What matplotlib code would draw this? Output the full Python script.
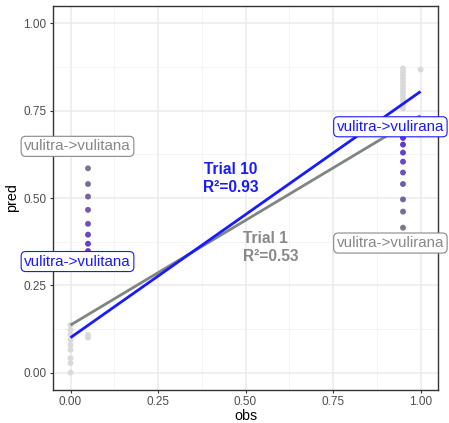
import matplotlib.pyplot as plt
import numpy as np
from matplotlib.colors import LinearSegmentedColormap

plt.rcParams['font.family'] = ['Liberation Sans', 'DejaVu Sans']

# trials 1..10 for the two highlighted items
trials = np.arange(1, 11)
left_obs = 0.05
left_pred = [0.585, 0.54, 0.504, 0.466, 0.426, 0.395, 0.369, 0.348, 0.335, 0.325]
right_obs = 0.95
right_pred = [0.415, 0.461, 0.496, 0.54, 0.573, 0.604, 0.630, 0.653, 0.672, 0.69]

# other items (light gray)
other_obs = [0.0] * 9 + [0.05] * 2 + [0.95] * 13 + [1.0]
other_pred = [0.136, 0.122, 0.108, 0.093, 0.079, 0.065, 0.041, 0.027, 0.0,
              0.108, 0.100,
              0.871, 0.861, 0.851, 0.842, 0.832, 0.822, 0.813, 0.803, 0.794,
              0.785, 0.776, 0.766, 0.757,
              0.868]

# fitted lines
fit_obs = [0.0, 1.0]
fit_trial1 = [0.136, 0.736]
fit_trial10 = [0.100, 0.805]

gray = '#7f8581'
blue = '#1a1aff'

fig = plt.figure(figsize=(4.49, 4.23), dpi=100)
ax = fig.add_axes([53/449, 33/423, 385/449, 384/423])

ax.set_xlim(-0.05, 1.05)
ax.set_ylim(-0.05, 1.05)
ticks = [0, 0.25, 0.5, 0.75, 1.0]
ax.set_xticks(ticks)
ax.set_yticks(ticks)
ax.set_xticklabels(['%.2f' % t for t in ticks])
ax.set_yticklabels(['%.2f' % t for t in ticks])
ax.set_xticks([0.125, 0.375, 0.625, 0.875], minor=True)
ax.set_yticks([0.125, 0.375, 0.625, 0.875], minor=True)
ax.grid(True, which='major', color='#ebebeb', lw=1.1)
ax.grid(True, which='minor', color='#f2f2f2', lw=0.6)
ax.set_axisbelow(True)
ax.tick_params(which='major', length=2.2, color='#333333', labelcolor='#4d4d4d', labelsize=8.5, pad=2.4)
ax.tick_params(which='minor', length=0)
for s in ax.spines.values():
    s.set_color('#333333')
    s.set_linewidth(1.0)

ax.set_xlabel('obs', fontsize=10.3, labelpad=0.5)
ax.set_ylabel('pred', fontsize=10.3, labelpad=3)

ax.scatter(other_obs, other_pred, s=18, color='#d9d9d9', edgecolors='none', zorder=2)

cmap = LinearSegmentedColormap.from_list('tr', ['#7c7690', '#5a26e8'])
cols = cmap((trials - 1) / 9)
ax.scatter([left_obs] * 10, left_pred, s=18, c=cols, edgecolors='none', zorder=3)
ax.scatter([right_obs] * 10, right_pred, s=18, c=cols, edgecolors='none', zorder=3)

ax.plot(fit_obs, fit_trial1, color=gray, lw=2.0, zorder=4, solid_capstyle='butt')
ax.plot(fit_obs, fit_trial10, color=blue, lw=2.0, zorder=5, solid_capstyle='butt')

ax.text(0.38, 0.557, 'Trial 10\nR²=0.93', color=blue, fontsize=11.2, fontweight='bold',
        ha='left', va='center', linespacing=1.25, zorder=6)
ax.text(0.492, 0.357, 'Trial 1\nR²=0.53', color='#888888', fontsize=11.2, fontweight='bold',
        ha='left', va='center', linespacing=1.25, zorder=6)

def label(x, y, c):
    ax.text(x, y, 'vulitra->vulitana' if x < 0.5 else 'vulitra->vulirana', color=c,
            fontsize=10.9, ha='center', va='center', zorder=7, clip_on=False,
            bbox=dict(boxstyle='round,pad=0.2,rounding_size=0.3', fc='white', ec=c, lw=0.8))

label(0.02, 0.648, '#888888')
label(0.02, 0.318, blue)
label(0.914, 0.704, blue)
label(0.914, 0.371, '#888888')

fig.savefig('out.png', dpi=100)
